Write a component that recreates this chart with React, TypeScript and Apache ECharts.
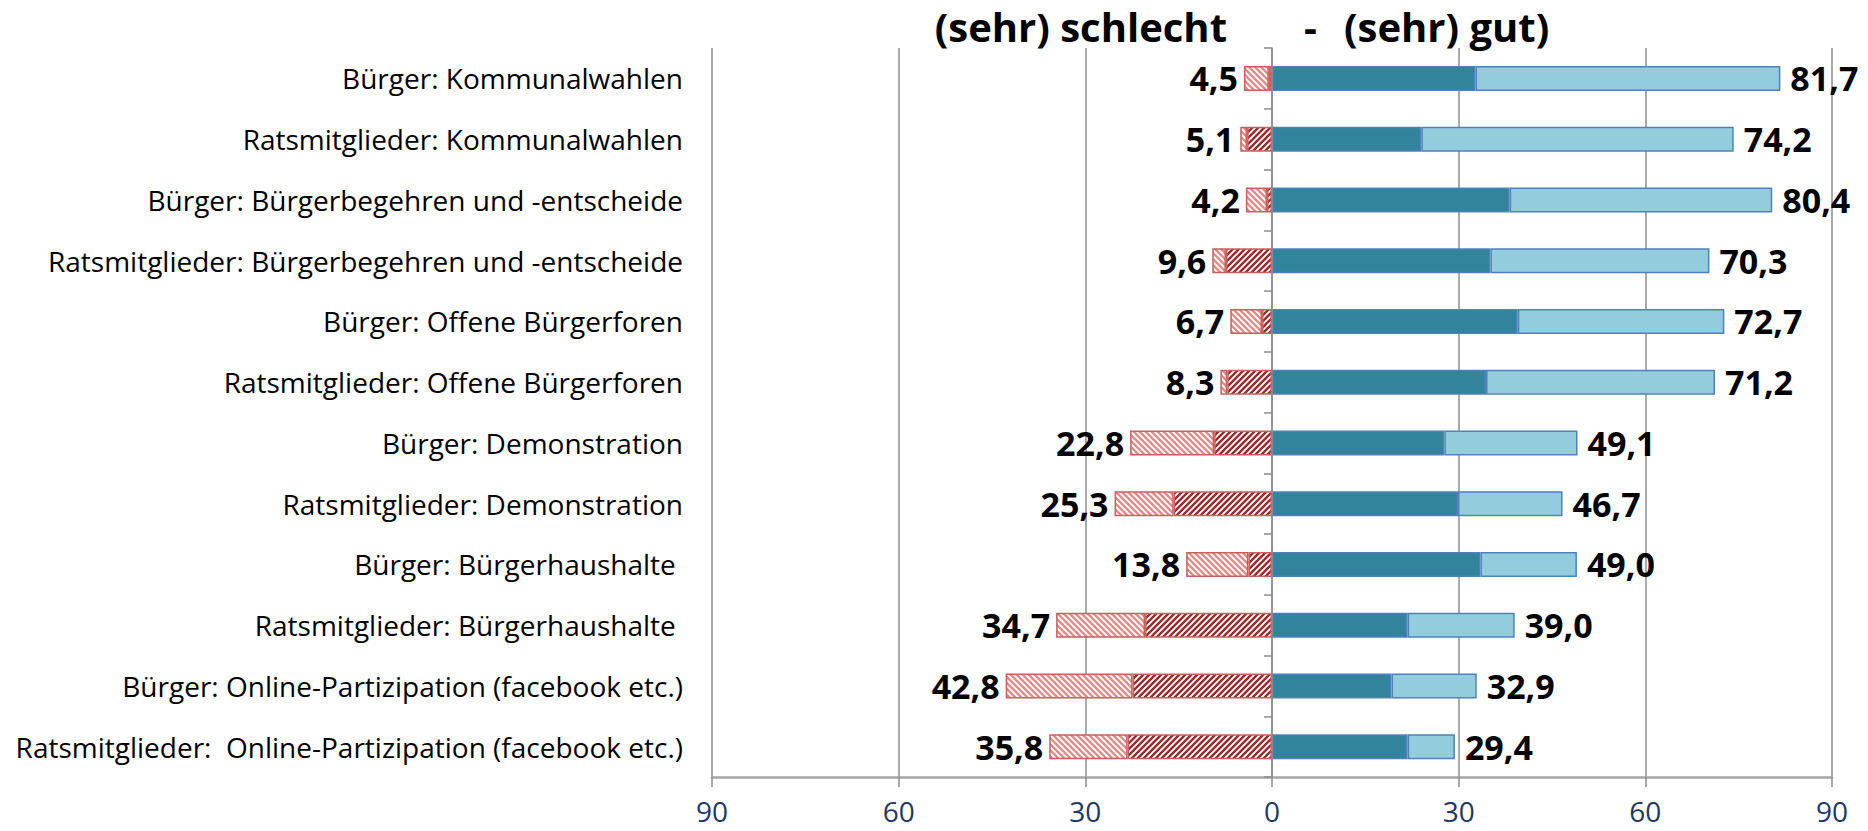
import React, { useEffect, useRef } from "react";
import * as echarts from "echarts";

const categories = [
  "Bürger: Kommunalwahlen",
  "Ratsmitglieder: Kommunalwahlen",
  "Bürger: Bürgerbegehren und -entscheide",
  "Ratsmitglieder: Bürgerbegehren und -entscheide",
  "Bürger: Offene Bürgerforen",
  "Ratsmitglieder: Offene Bürgerforen",
  "Bürger: Demonstration",
  "Ratsmitglieder: Demonstration",
  "Bürger: Bürgerhaushalte ",
  "Ratsmitglieder: Bürgerhaushalte ",
  "Bürger: Online-Partizipation (facebook etc.)",
  "Ratsmitglieder:  Online-Partizipation (facebook etc.)",
];

// totals shown as labels
const schlechtTotal = [4.5, 5.1, 4.2, 9.6, 6.7, 8.3, 22.8, 25.3, 13.8, 34.7, 42.8, 35.8];
const gutTotal = [81.7, 74.2, 80.4, 70.3, 72.7, 71.2, 49.1, 46.7, 49.0, 39.0, 32.9, 29.4];
// inner segments
const sehrSchlecht = [0.5, 4.0, 0.8, 7.4, 1.6, 7.2, 9.3, 15.8, 3.8, 20.4, 22.4, 23.2];
const sehrGut = [32.7, 24.0, 38.2, 35.1, 39.5, 34.4, 27.7, 29.9, 33.5, 21.8, 19.2, 21.8];

const xTicks = [-90, -60, -30, 0, 30, 60, 90];

const fmt = (v: number) => v.toFixed(1).replace(".", ",");

function hatch(color: string, dir: "/" | "\\") {
  const p = 6;
  const c = document.createElement("canvas");
  c.width = p;
  c.height = p;
  const ctx = c.getContext("2d")!;
  ctx.fillStyle = "#ffffff";
  ctx.fillRect(0, 0, p, p);
  ctx.strokeStyle = color;
  ctx.lineWidth = 2.4;
  ctx.beginPath();
  if (dir === "/") {
    ctx.moveTo(-1, p + 1); ctx.lineTo(p + 1, -1);
    ctx.moveTo(-2, 2); ctx.lineTo(2, -2);
    ctx.moveTo(p - 2, p + 2); ctx.lineTo(p + 2, p - 2);
  } else {
    ctx.moveTo(-1, -1); ctx.lineTo(p + 1, p + 1);
    ctx.moveTo(p - 2, -2); ctx.lineTo(p + 2, 2);
    ctx.moveTo(-2, p - 2); ctx.lineTo(2, p + 2);
  }
  ctx.stroke();
  return { image: c.toDataURL(), repeat: "repeat", imageWidth: p, imageHeight: p } as any;
}

export default function App() {
  const ref = useRef<HTMLDivElement>(null);
  useEffect(() => {
    document.body.style.margin = "0";
    const chart = echarts.init(ref.current!, null, { renderer: "svg" });
    const font = "'Open Sans', sans-serif";
    const schlecht = schlechtTotal.map((t, i) => -(t - sehrSchlecht[i]));
    const gut = gutTotal.map((t, i) => +(t - sehrGut[i]).toFixed(1));
    const option: any = {
      animation: false,
      backgroundColor: "#ffffff",
      grid: { left: 712, right: 36, top: 48, bottom: 54, containLabel: false },
      graphic: [
        { type: "text", right: 1868 - 1227, top: 6, style: { text: "(sehr) schlecht", font: `bold 40px ${font}`, fill: "#000" } },
        { type: "text", left: 1304, top: 6, style: { text: "-", font: `bold 40px ${font}`, fill: "#000" } },
        { type: "text", left: 1344, top: 6, style: { text: "(sehr) gut)", font: `bold 40px ${font}`, fill: "#000" } },
      ],
      xAxis: {
        type: "value",
        min: -90,
        max: 90,
        interval: 30,
        axisLine: { show: true, lineStyle: { color: "#a6a6a6", width: 2.5 } },
        axisTick: { show: true, length: 10, lineStyle: { color: "#8c8c8c", width: 1.5 } },
        axisLabel: {
          margin: 20,
          fontFamily: font,
          fontSize: 28,
          color: "#1f3864",
          formatter: (v: number) => (xTicks.includes(v) ? String(Math.abs(v)) : ""),
        },
        splitLine: { show: true, lineStyle: { color: "#8c8c8c", width: 1.5 } },
      },
      yAxis: [
        {
          type: "category",
          data: categories,
          inverse: true,
          position: "left",
          axisLine: { show: false, onZero: false },
          axisTick: { show: false },
          axisLabel: { margin: 29, fontFamily: font, fontSize: 28, color: "#000" },
        },
        {
          type: "category",
          data: categories,
          inverse: true,
          position: "right",
          z: 5,
          axisLine: { show: true, onZero: true, lineStyle: { color: "#8c8c8c", width: 1.5 } },
          axisTick: { show: true, inside: true, length: 8, lineStyle: { color: "#8c8c8c", width: 1.5 } },
          axisLabel: { show: false },
        },
      ],
      series: [
        {
          name: "sehr schlecht",
          type: "bar",
          stack: "all",
          barWidth: 25,
          data: sehrSchlecht.map((v) => -v),
          itemStyle: { color: hatch("#942e2b", "/"), borderColor: "#c9605d", borderWidth: 1.5 },
        },
        {
          name: "schlecht",
          type: "bar",
          stack: "all",
          barWidth: 25,
          data: schlecht,
          itemStyle: { color: hatch("#e08e8b", "\\"), borderColor: "#c9605d", borderWidth: 1.5 },
          label: {
            show: true,
            position: "left",
            distance: 6,
            fontFamily: font,
            fontWeight: "bold",
            fontSize: 34,
            color: "#000",
            formatter: (p: any) => fmt(schlechtTotal[p.dataIndex]),
          },
        },
        {
          name: "sehr gut",
          type: "bar",
          stack: "all",
          barWidth: 25,
          data: sehrGut,
          itemStyle: { color: "#31849b", borderColor: "#4f81bd", borderWidth: 1.5 },
        },
        {
          name: "gut",
          type: "bar",
          stack: "all",
          barWidth: 25,
          data: gut,
          itemStyle: { color: "#93cddd", borderColor: "#4f81bd", borderWidth: 1.5 },
          label: {
            show: true,
            position: "right",
            distance: 10,
            fontFamily: font,
            fontWeight: "bold",
            fontSize: 34,
            color: "#000",
            formatter: (p: any) => fmt(gutTotal[p.dataIndex]),
          },
        },
      ],
    };
    chart.setOption(option);
    return () => chart.dispose();
  }, []);
  return <div ref={ref} style={{ width: 1868, height: 831 }} />;
}
